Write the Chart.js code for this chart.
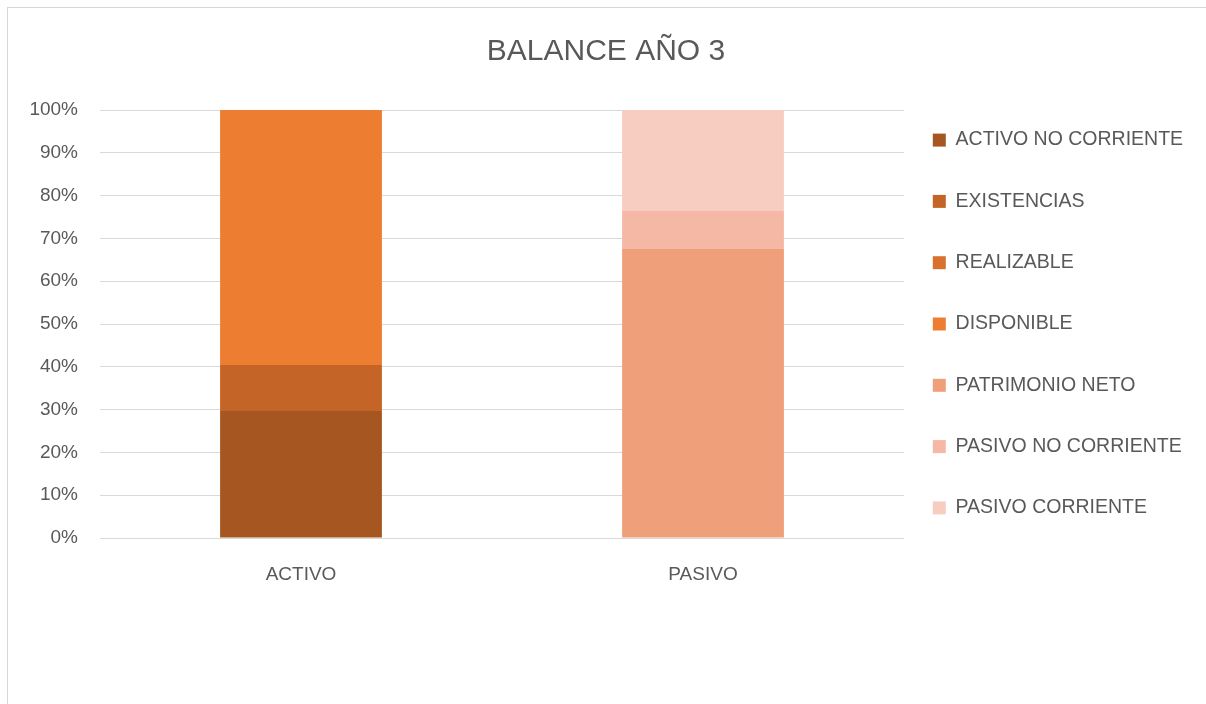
<!DOCTYPE html>
<html>
<head>
<meta charset="utf-8">
<script src="https://cdn.jsdelivr.net/npm/chart.js@4"></script>
<style>
    html, body { margin: 0; padding: 0; background: #fff; overflow: hidden; }
    #wrap { position: relative; width: 1206px; height: 704px; }
    #frame { position: absolute; left: 7px; top: 7px; width: 1220px; height: 800px; border: 1px solid #d6d6d6; }
    #balanceChart { position: absolute; left: 0; top: 0; }
</style>
</head>
<body>
<div id="wrap">
    <div id="frame"></div>
    <canvas id="balanceChart" width="1206" height="704"></canvas>
</div>
<script>
    const categories = ['ACTIVO', 'PASIVO'];

    // % sobre el total de cada columna
    const activoNoCorriente = [29.7, 0];
    const existencias = [10.7, 0];
    const realizable = [0, 0];
    const disponible = [59.6, 0];
    const patrimonioNeto = [0, 67.5];
    const pasivoNoCorriente = [0, 8.9];
    const pasivoCorriente = [0, 23.6];

    const yTicks = [0, 10, 20, 30, 40, 50, 60, 70, 80, 90, 100];

    const textColor = '#595959';
    const font = 'Liberation Sans, Arial, sans-serif';

    // nudge the legend left so the plot keeps its width
    const legendShift = {
        id: 'legendShift',
        afterLayout(chart) {
            chart.legend.left -= 13;
            chart.legend.right -= 13;
        }
    };

    const ctx = document.getElementById('balanceChart').getContext('2d');
    new Chart(ctx, {
        type: 'bar',
        data: {
            labels: categories,
            datasets: [
                { label: 'ACTIVO NO CORRIENTE', data: activoNoCorriente, backgroundColor: '#A65721' },
                { label: 'EXISTENCIAS', data: existencias, backgroundColor: '#C46527' },
                { label: 'REALIZABLE', data: realizable, backgroundColor: '#D8712F' },
                { label: 'DISPONIBLE', data: disponible, backgroundColor: '#ED7D31' },
                { label: 'PATRIMONIO NETO', data: patrimonioNeto, backgroundColor: '#F09F7B' },
                { label: 'PASIVO NO CORRIENTE', data: pasivoNoCorriente, backgroundColor: '#F4B8A4' },
                { label: 'PASIVO CORRIENTE', data: pasivoCorriente, backgroundColor: '#F8CDC1' }
            ]
        },
        options: {
            responsive: false,
            animation: false,
            categoryPercentage: 1,
            barPercentage: 0.4025,
            layout: { padding: { left: 10, right: 4, top: 0, bottom: 56 } },
            plugins: {
                title: {
                    display: true,
                    text: 'BALANCE AÑO 3',
                    color: textColor,
                    font: { family: font, size: 30, weight: 'normal' },
                    padding: { top: 34, bottom: 40 }
                },
                legend: {
                    position: 'right',
                    labels: {
                        color: textColor,
                        font: { family: font, size: 19.5 },
                        boxWidth: 13,
                        boxHeight: 13,
                        padding: 41.8
                    }
                },
                tooltip: { enabled: false }
            },
            scales: {
                x: {
                    stacked: true,
                    grid: { display: false },
                    border: { display: false },
                    ticks: { color: textColor, font: { family: font, size: 19 }, padding: 17 },
                    afterFit: (axis) => { axis.height = 110; }
                },
                y: {
                    stacked: true,
                    min: 0,
                    max: 100,
                    afterBuildTicks: (axis) => { axis.ticks = yTicks.map(v => ({ value: v })); },
                    grid: { color: '#D9D9D9', lineWidth: 1, drawTicks: false },
                    border: { display: false },
                    ticks: {
                        color: textColor,
                        font: { family: font, size: 19 },
                        padding: 22,
                        callback: (v) => v + '%'
                    },
                    afterFit: (axis) => { axis.width = 90; }
                }
            }
        },
        plugins: [legendShift]
    });
</script>
</body>
</html>
